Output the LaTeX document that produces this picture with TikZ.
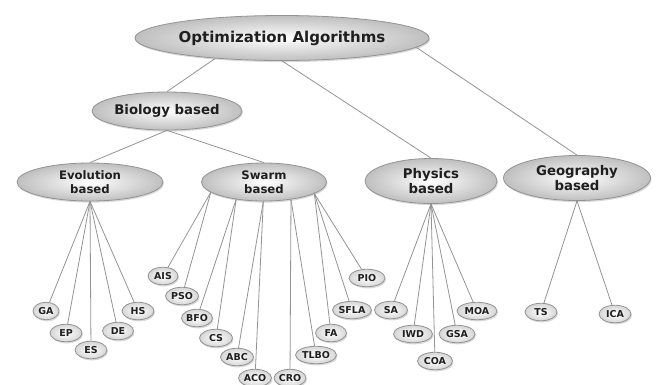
\documentclass[tikz,border=0pt]{standalone}
\usepackage{fontspec}
\setmainfont{DejaVu Sans}
\usetikzlibrary{shapes.geometric,shadows}
\pgfdeclarelayer{bg}
\pgfsetlayers{bg,main}
\begin{document}
\begin{tikzpicture}[x=1pt,y=-1pt,
  bub/.style={ellipse, inner sep=0pt, shading=radial, inner color=white, outer color=gray!50,
    draw=gray!85, line width=0.8pt,
    drop shadow={shadow xshift=1pt, shadow yshift=-1.6pt, opacity=0.3},
    text=black!88, align=center},
  big/.style={bub, font=\bfseries\fontsize{15}{17}\selectfont},
  mid/.style={bub, font=\bfseries\fontsize{13.3}{15}\selectfont},
  sml/.style={bub, font=\bfseries\fontsize{11.7}{13.5}\selectfont},
  leaf/.style={bub, outer color=gray!32, font=\bfseries\fontsize{9.5}{11}\selectfont, minimum height=17.5pt, minimum width=#1},
  leaf/.default=32pt,
  conn/.style={draw=gray!85, line width=0.8pt}]
\useasboundingbox (0,0) rectangle (656,384);

\node[big, minimum width=294pt, minimum height=45pt] (opt) at (282,38) {Optimization Algorithms};
\node[mid, minimum width=150pt, minimum height=38pt] (bio) at (167,111) {Biology based};
\node[sml, minimum width=146pt, minimum height=38pt] (ev) at (90,182) {Evolution\\based};
\node[sml, minimum width=125pt, minimum height=38pt] (sw) at (264,182) {Swarm\\based};
\node[mid, minimum width=132pt, minimum height=45pt] (ph) at (431,181) {Physics\\based};
\node[mid, minimum width=147pt, minimum height=45pt] (geo) at (577,178) {Geography\\based};

% evolution leaves
\node[leaf=26pt] (ga) at (46,311) {GA};
\node[leaf] (ep) at (66,333) {EP};
\node[leaf] (es) at (91,350) {ES};
\node[leaf=31pt] (de) at (118,331) {DE};
\node[leaf] (hs) at (138,311) {HS};
% swarm leaves
\node[leaf=30pt] (ais) at (163,276) {AIS};
\node[leaf=33pt] (pso) at (182,296) {PSO};
\node[leaf=31pt] (bfo) at (197,318) {BFO};
\node[leaf=33pt] (cs) at (216,338) {CS};
\node[leaf=33pt] (abc) at (237,357) {ABC};
\node[leaf=33pt] (aco) at (255,378) {ACO};
\node[leaf=32pt] (cro) at (290,378) {CRO};
\node[leaf=41pt] (tlbo) at (316,355) {TLBO};
\node[leaf=31pt] (fa) at (331,333) {FA};
\node[leaf=39pt] (sfla) at (352,310) {SFLA};
\node[leaf=36pt] (pio) at (367,278) {PIO};
% physics leaves
\node[leaf=33pt] (sa) at (391,310) {SA};
\node[leaf=39pt] (iwd) at (413,334) {IWD};
\node[leaf=35pt] (coa) at (435,361) {COA};
\node[leaf=36pt] (gsa) at (457,334) {GSA};
\node[leaf=40pt] (moa) at (477,311) {MOA};
% geography leaves
\node[leaf] (ts) at (541,312) {TS};
\node[leaf] (ica) at (615,314) {ICA};

\begin{pgfonlayer}{bg}
\draw[conn] (opt.-163) -- (bio.north);
\draw[conn] (opt.south) -- (ph.north);
\draw[conn] (opt.-4.5) -- (geo.north);
\draw[conn] (bio.south) -- (ev.north);
\draw[conn] (bio.south) -- (sw.north);
\foreach \l in {ga,ep,es,de,hs} \draw[conn] (ev.south) -- (\l);
\foreach \l in {ais,pso} \draw[conn] (sw.-169) -- (\l);
\foreach \l in {bfo,cs} \draw[conn] (sw.-148) -- (\l);
\foreach \l in {abc,aco} \draw[conn] (sw.-92) -- (\l);
\foreach \l in {cro,tlbo} \draw[conn] (sw.-33) -- (\l);
\foreach \l in {fa,sfla,pio} \draw[conn] (sw.-13) -- (\l);
\foreach \l in {sa,iwd,coa,gsa,moa} \draw[conn] (ph.south) -- (\l);
\foreach \l in {ts,ica} \draw[conn] (geo.south) -- (\l);
\end{pgfonlayer}
\end{tikzpicture}
\end{document}
